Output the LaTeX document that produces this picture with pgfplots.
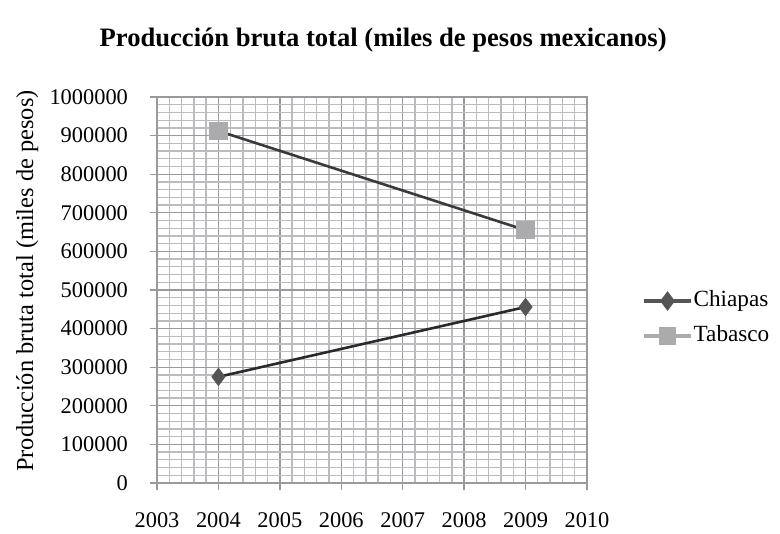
\documentclass[border=0pt]{standalone}
\usepackage{pgfplots}
\pgfplotsset{compat=1.18}
\usepackage{fontspec}
\setmainfont{Liberation Serif}
\definecolor{majgrid}{HTML}{9A9A9E}
\definecolor{mingrid}{HTML}{BCBCC0}
\definecolor{chline}{HTML}{2A2A2A}
\definecolor{chmark}{HTML}{555555}
\definecolor{tbline}{HTML}{3A3A3A}
\definecolor{tbmark}{HTML}{ABABAE}
\begin{document}
\begin{tikzpicture}
\useasboundingbox (-78.5pt,-25.5pt) rectangle (311.5pt,241.5pt);
\begin{axis}[
  at={(0pt,0pt)}, anchor=south west,
  scale only axis, width=215pt, height=193pt,
  xmin=2003, xmax=2010, ymin=0, ymax=1000000,
  xtick={2003,2004,2005,2006,2007,2008,2009,2010},
  ytick={0,100000,200000,300000,400000,500000,600000,700000,800000,900000,1000000},
  minor xtick={2003.2,2003.4,2003.6,2003.8,2004.2,2004.4,2004.6,2004.8,2005.2,2005.4,2005.6,2005.8,2006.2,2006.4,2006.6,2006.8,2007.2,2007.4,2007.6,2007.8,2008.2,2008.4,2008.6,2008.8,2009.2,2009.4,2009.6,2009.8},
  minor y tick num=4,
  grid=both,
  major grid style={majgrid, line width=0.65pt},
  minor grid style={mingrid, line width=0.65pt},
  axis line style={majgrid, line width=0.65pt},
  tick style={majgrid, line width=0.65pt},
  major tick length=3.5pt, minor tick length=0pt,
  tick align=outside,
  xtick pos=bottom, ytick pos=left,
  scaled y ticks=false,
  /pgf/number format/.cd, fixed, 1000 sep={}, assume math mode=true,
  /pgfplots/.cd,
  ticklabel style={font=\fontsize{11.2}{13}\selectfont, text=black},
  xticklabel style={yshift=-8pt},
  yticklabel style={xshift=-7.5pt},
  title={\textbf{Producción bruta total (miles de pesos mexicanos)}},
  title style={at={(rel axis cs:0.526,1.148)}, anchor=center, yshift=-6pt, font=\fontsize{13.3}{16}\selectfont},
  ylabel={Producción bruta total (miles de pesos)},
  ylabel style={at={(rel axis cs:-0.302,0.523)}, anchor=center, font=\fontsize{12.2}{14}\selectfont},
  legend style={at={(rel axis cs:1.128,0.426)}, anchor=west, draw=none, fill=none,
    inner sep=0pt, row sep=6pt,
    nodes={inner sep=0.5pt, text height=8pt, text depth=2.5pt, font=\fontsize{11.6}{13}\selectfont}},
  legend cell align=left,
  legend image code/.code={
    \draw[mark repeat=2, mark phase=2, #1] plot coordinates {(0pt,0pt) (11.75pt,0pt) (23.5pt,0pt)};
  },
]
\addplot[tbline, line width=1.3pt, mark=square*, mark size=3.9pt,
  mark options={fill=tbmark, draw=tbmark, solid}, forget plot]
  coordinates {(2004,912000) (2009,655000)};
\addplot[chline, line width=1.3pt, mark=diamond*, mark size=3.6pt,
  mark options={fill=chmark, draw=chmark, solid}, forget plot]
  coordinates {(2004,275000) (2009,456000)};
\addlegendimage{color=chmark, line width=1.6pt, mark=diamond*, mark size=3.6pt, mark options={fill=chmark, draw=chmark}}
\addlegendentry{Chiapas}
\addlegendimage{color=tbmark, line width=1.6pt, mark=square*, mark size=3.6pt, mark options={fill=tbmark, draw=tbmark}}
\addlegendentry{Tabasco}
\end{axis}
\end{tikzpicture}
\end{document}
